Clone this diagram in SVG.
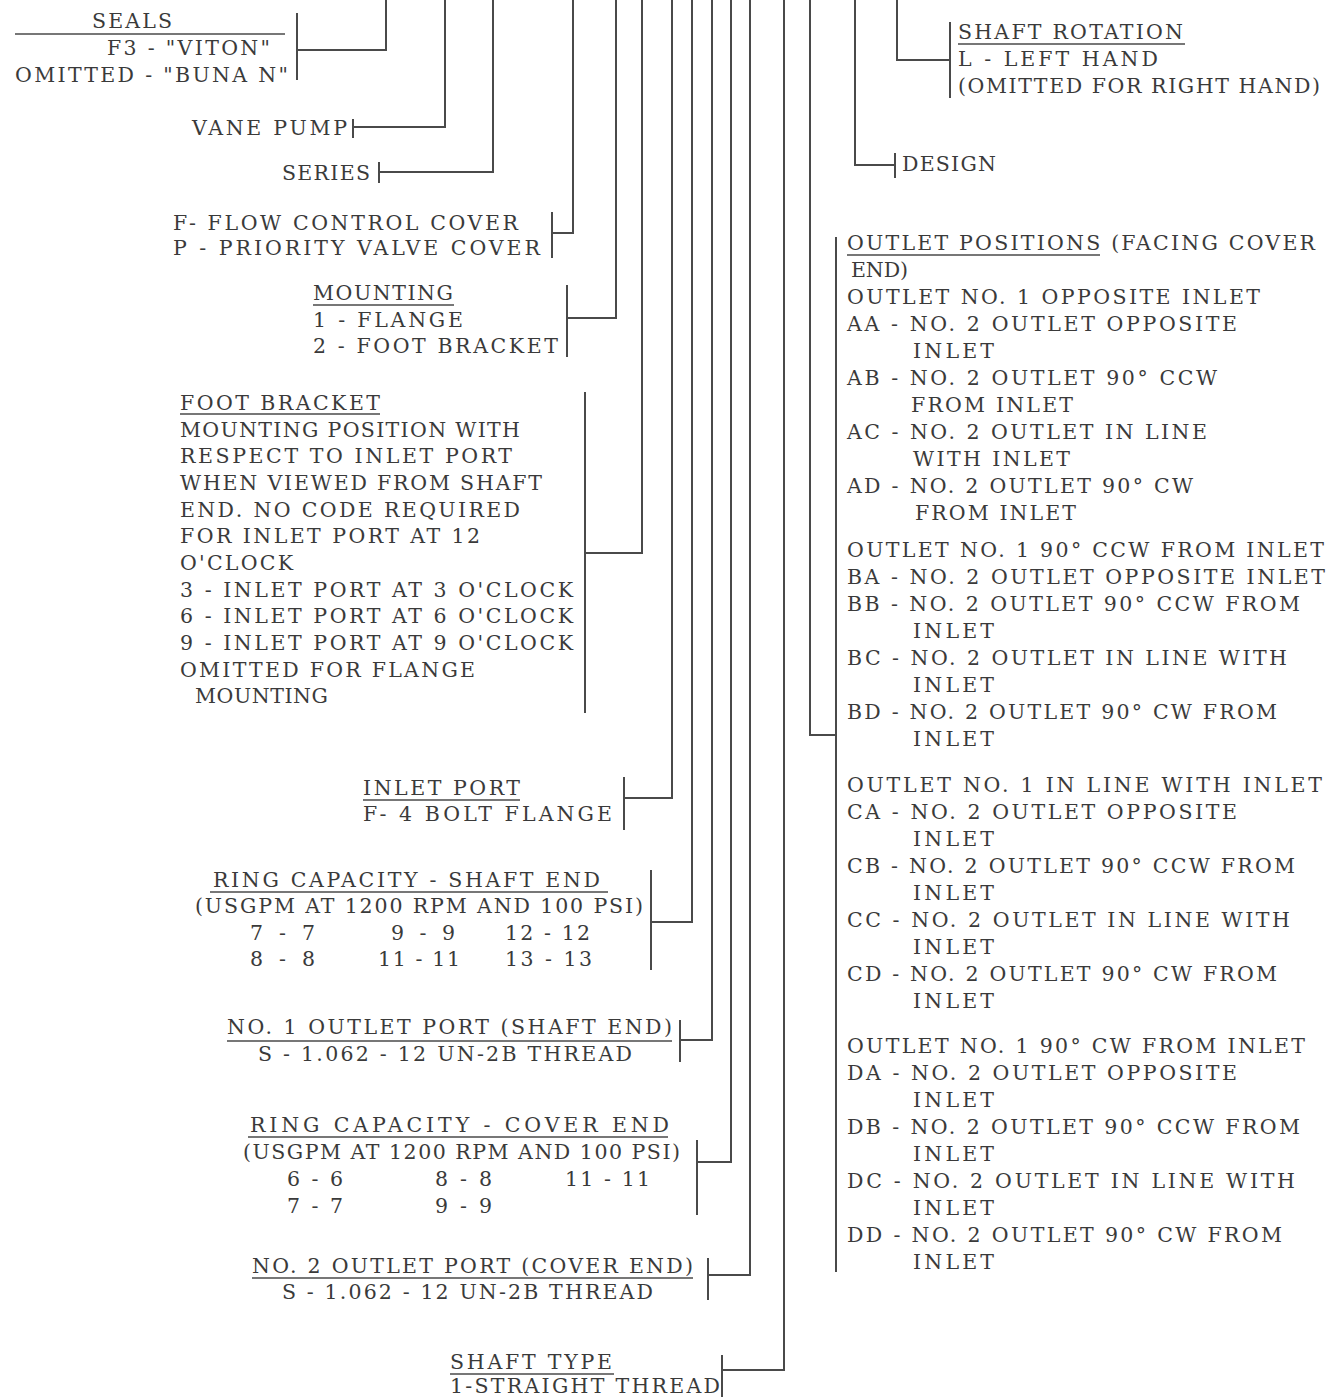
<svg xmlns="http://www.w3.org/2000/svg" width="1329" height="1397" viewBox="0 0 1329 1397" xml:space="preserve">
<style>
text{font-family:"DejaVu Serif","Liberation Serif",serif;font-size:20.5px;fill:#3a3a3a}
.ln{stroke:#4a4a4a;stroke-width:2;fill:none}
.ul{stroke:#4a4a4a;stroke-width:1.6}
</style>
<rect width="1329" height="1397" fill="#ffffff"/>
<g id="connectors" class="ln">
<path d="M386,0 V50 H297"/><path d="M297,13 V80"/>
<path d="M445,0 V127 H353"/><path d="M353,119 V138"/>
<path d="M493,0 V172 H379"/><path d="M379,162 V183"/>
<path d="M573,0 V233 H552"/><path d="M552,212 V258"/>
<path d="M616,0 V318 H567"/><path d="M567,285 V357"/>
<path d="M642,0 V553 H585"/><path d="M585,392 V713"/>
<path d="M672,0 V798 H624"/><path d="M624,777 V830"/>
<path d="M692,0 V922 H651"/><path d="M651,870 V970"/>
<path d="M712,0 V1040 H680"/><path d="M680,1020 V1062"/>
<path d="M731,0 V1162 H697"/><path d="M697,1140 V1215"/>
<path d="M750,0 V1275 H708"/><path d="M708,1258 V1300"/>
<path d="M784,0 V1370 H722"/><path d="M722,1355 V1397"/>
<path d="M810,0 V735 H836"/><path d="M836,237 V1272"/>
<path d="M855,0 V165 H895"/><path d="M895,153 V178"/>
<path d="M897,0 V60 H950"/><path d="M950,22 V98"/>
</g>
<g id="seals">
<text x="92" y="28" textLength="80" lengthAdjust="spacing">SEALS</text>
<line class="ul" x1="15" y1="34" x2="285" y2="34"/>
<text x="107" y="55" textLength="163" lengthAdjust="spacing">F3 - "VITON"</text>
<text x="15" y="82" textLength="273" lengthAdjust="spacing">OMITTED - "BUNA N"</text>
</g>
<g id="vane-pump"><text x="192" y="135" textLength="155" lengthAdjust="spacing">VANE PUMP</text></g>
<g id="series"><text x="282" y="180" textLength="88" lengthAdjust="spacing">SERIES</text></g>
<g id="cover">
<text x="173" y="230" textLength="345" lengthAdjust="spacing">F- FLOW CONTROL COVER</text>
<text x="173" y="255" textLength="367" lengthAdjust="spacing">P - PRIORITY VALVE COVER</text>
</g>
<g id="mounting">
<text x="313" y="300" textLength="140" lengthAdjust="spacing">MOUNTING</text>
<line class="ul" x1="313" y1="305" x2="454" y2="305"/>
<text x="313" y="327" textLength="150" lengthAdjust="spacing">1 - FLANGE</text>
<text x="313" y="353" textLength="245" lengthAdjust="spacing">2 - FOOT BRACKET</text>
</g>
<g id="foot-bracket">
<text x="180" y="410" textLength="200" lengthAdjust="spacing">FOOT BRACKET</text>
<line class="ul" x1="180" y1="414" x2="380" y2="414"/>
<text x="180" y="437" textLength="340" lengthAdjust="spacing">MOUNTING POSITION WITH</text>
<text x="180" y="463" textLength="332" lengthAdjust="spacing">RESPECT TO INLET PORT</text>
<text x="180" y="490" textLength="362" lengthAdjust="spacing">WHEN VIEWED FROM SHAFT</text>
<text x="180" y="517" textLength="340" lengthAdjust="spacing">END.  NO CODE REQUIRED</text>
<text x="180" y="543" textLength="300" lengthAdjust="spacing">FOR INLET PORT AT 12</text>
<text x="180" y="570" textLength="113" lengthAdjust="spacing">O'CLOCK</text>
<text x="180" y="597" textLength="393" lengthAdjust="spacing">3 - INLET PORT AT 3 O'CLOCK</text>
<text x="180" y="623" textLength="393" lengthAdjust="spacing">6 - INLET PORT AT 6 O'CLOCK</text>
<text x="180" y="650" textLength="393" lengthAdjust="spacing">9 - INLET PORT AT 9 O'CLOCK</text>
<text x="180" y="677" textLength="295" lengthAdjust="spacing">OMITTED FOR FLANGE</text>
<text x="195" y="703" textLength="133" lengthAdjust="spacing">MOUNTING</text>
</g>
<g id="inlet-port">
<text x="363" y="795" textLength="157" lengthAdjust="spacing">INLET PORT</text>
<line class="ul" x1="363" y1="800" x2="520" y2="800"/>
<text x="363" y="821" textLength="249" lengthAdjust="spacing">F- 4 BOLT FLANGE</text>
</g>
<g id="ring-shaft">
<text x="213" y="887" textLength="387" lengthAdjust="spacing">RING CAPACITY - SHAFT END</text>
<line class="ul" x1="210" y1="892" x2="608" y2="892"/>
<text x="195" y="913" textLength="448" lengthAdjust="spacing">(USGPM AT 1200 RPM AND 100 PSI)</text>
<text x="250" y="940" textLength="65" lengthAdjust="spacing">7 - 7</text>
<text x="391" y="940" textLength="64" lengthAdjust="spacing">9 - 9</text>
<text x="505" y="940" textLength="85" lengthAdjust="spacing">12 - 12</text>
<text x="250" y="966" textLength="65" lengthAdjust="spacing">8 - 8</text>
<text x="378" y="966" textLength="82" lengthAdjust="spacing">11 - 11</text>
<text x="505" y="966" textLength="87" lengthAdjust="spacing">13 - 13</text>
</g>
<g id="outlet1">
<text x="227" y="1034" textLength="445" lengthAdjust="spacing">NO. 1 OUTLET PORT (SHAFT END)</text>
<line class="ul" x1="227" y1="1041" x2="672" y2="1041"/>
<text x="258" y="1061" textLength="374" lengthAdjust="spacing">S - 1.062 - 12 UN-2B THREAD</text>
</g>
<g id="ring-cover">
<text x="250" y="1132" textLength="419" lengthAdjust="spacing">RING CAPACITY - COVER END</text>
<line class="ul" x1="248" y1="1137" x2="668" y2="1137"/>
<text x="243" y="1159" textLength="437" lengthAdjust="spacing">(USGPM AT 1200 RPM AND 100 PSI)</text>
<text x="287" y="1186" textLength="56" lengthAdjust="spacing">6 - 6</text>
<text x="435" y="1186" textLength="57" lengthAdjust="spacing">8 - 8</text>
<text x="565" y="1186" textLength="85" lengthAdjust="spacing">11 - 11</text>
<text x="287" y="1213" textLength="56" lengthAdjust="spacing">7 - 7</text>
<text x="435" y="1213" textLength="57" lengthAdjust="spacing">9 - 9</text>
</g>
<g id="outlet2">
<text x="252" y="1273" textLength="441" lengthAdjust="spacing">NO. 2 OUTLET PORT (COVER END)</text>
<line class="ul" x1="252" y1="1278" x2="693" y2="1278"/>
<text x="282" y="1299" textLength="371" lengthAdjust="spacing">S - 1.062 - 12 UN-2B THREAD</text>
</g>
<g id="shaft-type">
<text x="450" y="1369" textLength="162" lengthAdjust="spacing">SHAFT TYPE</text>
<line class="ul" x1="450" y1="1374" x2="614" y2="1374"/>
<text x="450" y="1393" textLength="270" lengthAdjust="spacing">1-STRAIGHT THREAD</text>
</g>
<g id="shaft-rotation">
<text x="958" y="39" textLength="225" lengthAdjust="spacing">SHAFT ROTATION</text>
<line class="ul" x1="958" y1="44" x2="1185" y2="44"/>
<text x="958" y="66" textLength="200" lengthAdjust="spacing">L - LEFT HAND</text>
<text x="958" y="93" textLength="362" lengthAdjust="spacing">(OMITTED FOR RIGHT HAND)</text>
</g>
<g id="design"><text x="902" y="171" textLength="94" lengthAdjust="spacing">DESIGN</text></g>
<g id="outlet-positions">
<text x="847" y="250" textLength="468" lengthAdjust="spacing">OUTLET POSITIONS (FACING COVER</text>
<line class="ul" x1="847" y1="255" x2="1100" y2="255"/>
<text x="851" y="277" textLength="57" lengthAdjust="spacing">END)</text>
<text x="847" y="304" textLength="413" lengthAdjust="spacing">OUTLET NO. 1 OPPOSITE INLET</text>
<text x="847" y="331" textLength="390" lengthAdjust="spacing">AA - NO. 2 OUTLET OPPOSITE</text>
<text x="913" y="358" textLength="81" lengthAdjust="spacing">INLET</text>
<text x="847" y="385" textLength="370" lengthAdjust="spacing">AB - NO. 2 OUTLET 90°  CCW</text>
<text x="911" y="412" textLength="162" lengthAdjust="spacing">FROM INLET</text>
<text x="847" y="439" textLength="360" lengthAdjust="spacing">AC - NO. 2 OUTLET IN  LINE</text>
<text x="913" y="466" textLength="157" lengthAdjust="spacing">WITH INLET</text>
<text x="847" y="493" textLength="346" lengthAdjust="spacing">AD - NO. 2 OUTLET 90°  CW</text>
<text x="915" y="520" textLength="161" lengthAdjust="spacing">FROM INLET</text>
<text x="847" y="557" textLength="477" lengthAdjust="spacing">OUTLET NO. 1 90°  CCW FROM INLET</text>
<text x="847" y="584" textLength="478" lengthAdjust="spacing">BA - NO. 2 OUTLET OPPOSITE INLET</text>
<text x="847" y="611" textLength="453" lengthAdjust="spacing">BB - NO. 2 OUTLET 90°  CCW FROM</text>
<text x="913" y="638" textLength="81" lengthAdjust="spacing">INLET</text>
<text x="847" y="665" textLength="440" lengthAdjust="spacing">BC - NO. 2 OUTLET IN  LINE WITH</text>
<text x="913" y="692" textLength="81" lengthAdjust="spacing">INLET</text>
<text x="847" y="719" textLength="430" lengthAdjust="spacing">BD - NO. 2 OUTLET 90°  CW FROM</text>
<text x="913" y="746" textLength="81" lengthAdjust="spacing">INLET</text>
<text x="847" y="792" textLength="475" lengthAdjust="spacing">OUTLET NO. 1 IN LINE WITH INLET</text>
<text x="847" y="819" textLength="390" lengthAdjust="spacing">CA - NO. 2 OUTLET OPPOSITE</text>
<text x="913" y="846" textLength="81" lengthAdjust="spacing">INLET</text>
<text x="847" y="873" textLength="448" lengthAdjust="spacing">CB - NO. 2 OUTLET 90°  CCW FROM</text>
<text x="913" y="900" textLength="81" lengthAdjust="spacing">INLET</text>
<text x="847" y="927" textLength="443" lengthAdjust="spacing">CC - NO. 2 OUTLET IN  LINE WITH</text>
<text x="913" y="954" textLength="81" lengthAdjust="spacing">INLET</text>
<text x="847" y="981" textLength="430" lengthAdjust="spacing">CD - NO. 2 OUTLET 90°  CW FROM</text>
<text x="913" y="1008" textLength="81" lengthAdjust="spacing">INLET</text>
<text x="847" y="1053" textLength="458" lengthAdjust="spacing">OUTLET NO. 1 90°  CW FROM INLET</text>
<text x="847" y="1080" textLength="390" lengthAdjust="spacing">DA - NO. 2 OUTLET OPPOSITE</text>
<text x="913" y="1107" textLength="81" lengthAdjust="spacing">INLET</text>
<text x="847" y="1134" textLength="453" lengthAdjust="spacing">DB - NO. 2 OUTLET 90°  CCW FROM</text>
<text x="913" y="1161" textLength="81" lengthAdjust="spacing">INLET</text>
<text x="847" y="1188" textLength="448" lengthAdjust="spacing">DC - NO. 2 OUTLET IN  LINE WITH</text>
<text x="913" y="1215" textLength="81" lengthAdjust="spacing">INLET</text>
<text x="847" y="1242" textLength="435" lengthAdjust="spacing">DD - NO. 2 OUTLET 90°  CW FROM</text>
<text x="913" y="1269" textLength="81" lengthAdjust="spacing">INLET</text>
</g>
</svg>
